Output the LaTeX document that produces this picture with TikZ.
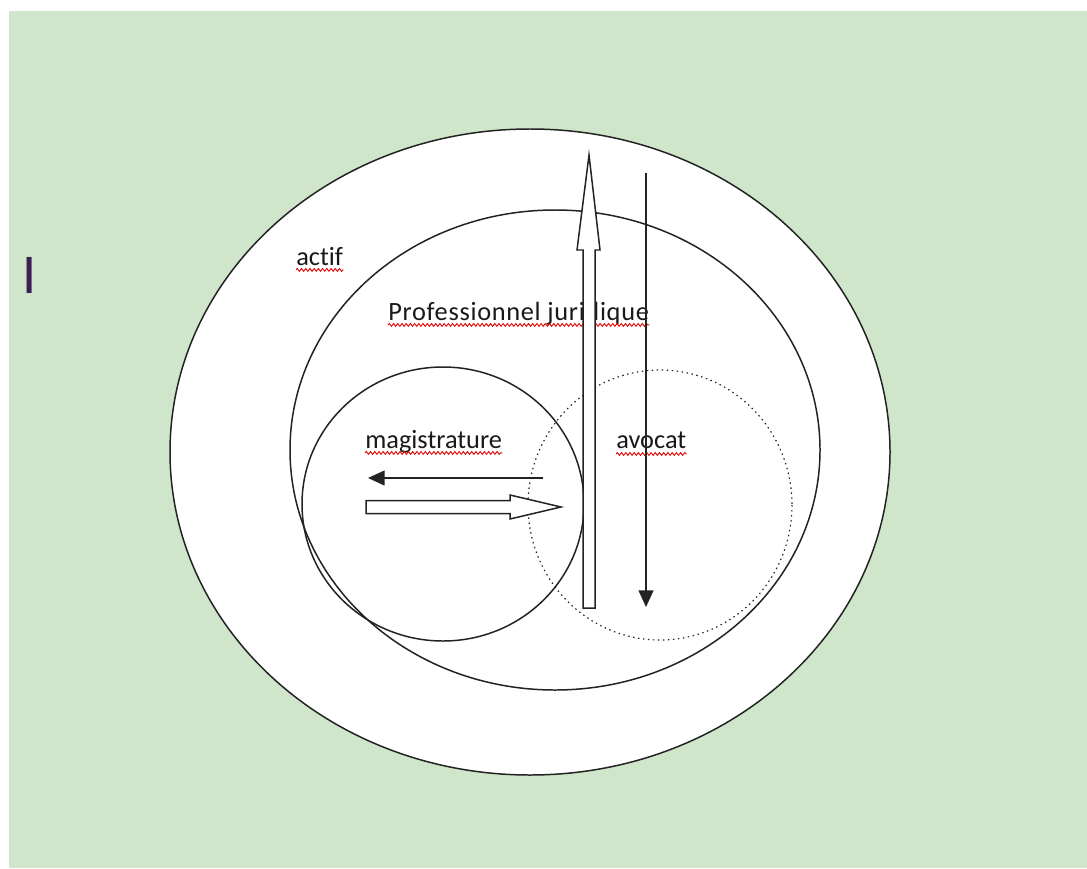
\documentclass[tikz,border=0pt]{standalone}
\usepackage{fontspec}
\setmainfont{Carlito}[Ligatures=NoCommon]
\usetikzlibrary{arrows.meta,decorations.pathmorphing}
\definecolor{meadow}{RGB}{207,230,203}
\definecolor{ink}{RGB}{35,35,35}
\definecolor{cursorink}{RGB}{60,30,80}
\tikzset{
  ring/.style={draw=ink, line width=0.85pt},
  word/.style={anchor=base west, inner sep=0pt, font=\fontsize{15}{18}\selectfont, text=black!90},
  squiggle/.style={draw=red!90!black, line width=0.5pt, decorate,
    decoration={snake, segment length=2.4pt, amplitude=0.8pt}},
  hollow/.style={draw=ink, line width=0.85pt, fill=white},
  pointer/.style={draw=ink, line width=0.85pt, -{Triangle[length=9.5pt,width=8.5pt]}}
}
\begin{document}
\begin{tikzpicture}[x=0.02cm, y=-0.02cm]
  \useasboundingbox (0,0) rectangle (1087,868);
  \fill[white] (0,0) rectangle (1087,868);
  \fill[meadow] (9,11) rectangle (1087,868);

  % cercles
  \draw[ring, fill=white] (530,452) ellipse [x radius=360, y radius=323];
  \draw[ring] (555,450) ellipse [x radius=265, y radius=240];
  \draw[ring] (443,504) ellipse [x radius=141, y radius=137];
  \draw[ring, dotted, line width=0.65pt] (660,505) ellipse [x radius=132, y radius=135];

  % textes
  \node[word] (actif) at (296,265) {actif};
  \node[word] (pro) at (388,320) {\addfontfeature{LetterSpace=2.6}Professionnel juridique};
  \node[word] (magi) at (365,448) {magistrature};
  \node[word] (avocat) at (616,448) {avocat};
  \node[anchor=base west, inner sep=0pt, font=\fontsize{32}{36}\selectfont, text=cursorink] (curseur) at (22,293) {I};

  \draw[squiggle] ([yshift=-2.8pt]actif.base west) -- ([yshift=-2.8pt]actif.base east);
  \draw[squiggle] ([yshift=-2.8pt]pro.base west) -- ([yshift=-2.8pt]pro.base east);
  \draw[squiggle] ([yshift=-2.8pt]magi.base west) -- ([yshift=-2.8pt]magi.base east);
  \draw[squiggle] ([yshift=-3.4pt]avocat.base west) -- ([yshift=-3.4pt]avocat.base east);

  % fleches
  \coordinate (uptip) at (589,155);
  \coordinate (righttip) at (561,507);
  \coordinate (downtop) at (646,173);
  \coordinate (downtip) at (646,607);
  \coordinate (leftstart) at (543,478);
  \coordinate (lefttip) at (368,478);

  \draw[hollow, shift={(uptip)}] (-6,453) -- (-6,95) -- (-12,95) -- (0,0)
    -- (11,95) -- (6,95) -- (6,453) -- cycle;
  \draw[hollow, shift={(righttip)}] (-195,-6.5) -- (-51,-6.5) -- (-51,-12) -- (0,0)
    -- (-51,12) -- (-51,6.5) -- (-195,6.5) -- cycle;
  \draw[pointer] (downtop) -- (downtip);
  \draw[pointer] (leftstart) -- (lefttip);
\end{tikzpicture}
\end{document}
